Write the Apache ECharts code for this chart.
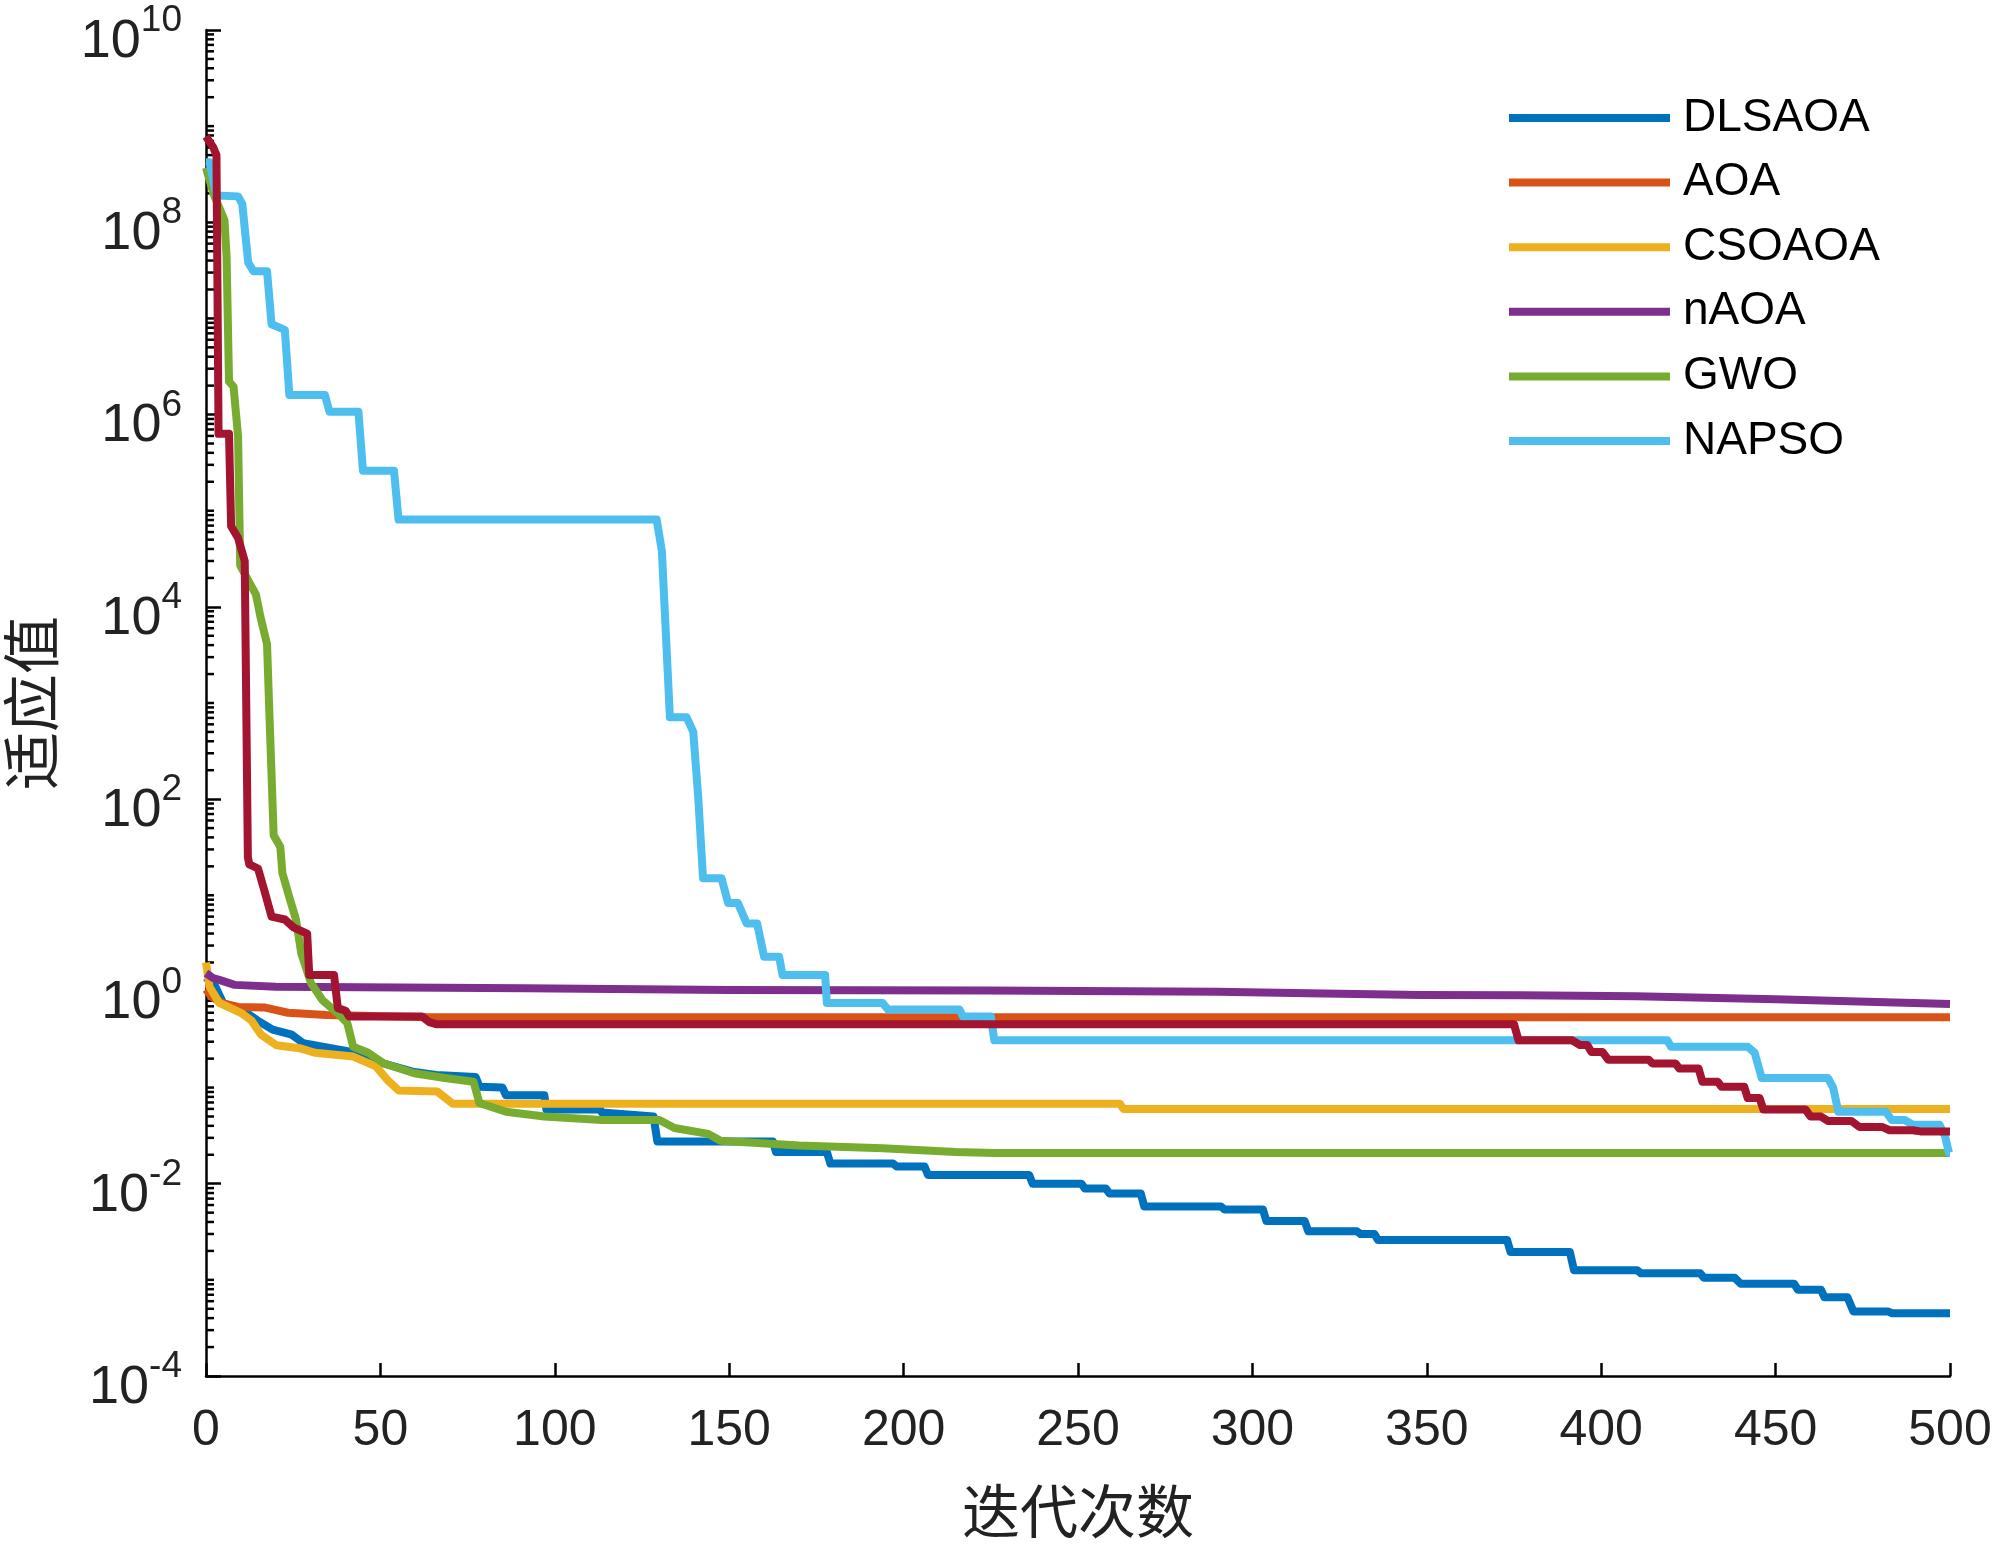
<!DOCTYPE html>
<html>
<head>
<meta charset="utf-8">
<script src="https://cdn.jsdelivr.net/npm/echarts@6/dist/echarts.min.js"></script>
<style>
  html, body { margin: 0; padding: 0; background: #fff; }
  #chart { width: 2000px; height: 1549px; }
</style>
</head>
<body>
<div id="chart"></div>
<script>
// convergence curves, [iteration, fitness]
const dlsaoa = [[0,1.4],[2.7,1.12],[4.9,0.76],[9.3,0.65],[12.5,0.57],[14.7,0.5],[19.1,0.4],[24.6,0.355],[27.9,0.29],[33.4,0.266],[42.2,0.234],[51,0.178],[59.7,0.145],[66,0.135],[77.3,0.129],[78.4,0.102],[85,0.1],[86,0.083],[97,0.083],[97.6,0.059],[113,0.059],[113.5,0.055],[128.3,0.05],[129.4,0.0275],[162.5,0.0275],[163.4,0.0214],[178,0.0214],[179,0.0162],[197,0.0162],[198,0.0151],[206,0.0151],[207,0.0123],[236,0.0123],[237,0.01],[251,0.01],[252,0.0089],[258,0.0089],[259,0.0079],[268,0.0079],[269,0.0058],[291,0.0058],[292,0.0054],[303,0.0054],[304,0.0041],[315,0.0041],[316,0.0032],[330,0.0032],[331,0.003],[335,0.003],[336,0.0026],[373,0.0026],[374,0.00195],[391,0.00195],[392.2,0.00126],[410.3,0.00126],[411.4,0.00117],[428.4,0.00117],[429.5,0.00105],[438.3,0.00105],[440,0.00091],[455.3,0.00091],[456.4,0.00079],[463,0.00079],[464,0.00066],[470.6,0.00066],[472.3,0.00047],[482.2,0.00047],[483.3,0.00045],[500,0.00045]];

const aoa = [[0,1.05],[1.6,0.88],[4.9,0.75],[9.3,0.69],[17,0.68],[23.5,0.6],[34.5,0.57],[64,0.54],[500,0.54]];

const csoaoa = [[0,2.0],[1,1.12],[3.8,0.76],[10.3,0.59],[13,0.5],[15.8,0.355],[20.2,0.275],[26.8,0.257],[31.2,0.23],[42.2,0.21],[48.7,0.166],[52,0.12],[55.3,0.093],[66.3,0.091],[70.7,0.068],[262,0.068],[263,0.06],[500,0.06]];

const naoa = [[0,1.55],[2,1.38],[3.8,1.32],[8.2,1.17],[20,1.12],[91.5,1.08],[150,1.035],[224,1.02],[290,0.995],[316,0.955],[348,0.92],[377,0.91],[410,0.89],[450,0.83],[500,0.74]];

const gwo = [[0,3.7e8],[2.1,2.0e8],[5.3,1.05e8],[5.9,4.4e7],[6.6,2.2e6],[7.9,1.95e6],[9.2,5.9e5],[9.8,2.7e4],[12.4,1.8e4],[14.3,1.35e4],[15.6,7.9e3],[17.5,4.1e3],[18.1,930],[19.4,42],[21.3,32],[21.9,17],[23.9,9.5],[25.8,5.6],[27.3,2.5],[30.1,1.22],[33.4,0.81],[37.8,0.59],[40.5,0.47],[42.2,0.266],[46.5,0.23],[51,0.178],[59.7,0.141],[68.5,0.126],[76.7,0.115],[78.4,0.069],[86,0.056],[97,0.05],[113.5,0.046],[130,0.046],[134.3,0.038],[144,0.033],[147.5,0.028],[170,0.025],[194,0.0234],[215,0.0214],[226,0.0209],[500,0.0209]];

const napso = [[0,4.2e8],[1,4.2e8],[3,1.9e8],[9.2,1.86e8],[10.4,1.55e8],[12.1,3.8e7],[13.6,3.1e7],[17.5,3.1e7],[18.8,8.7e6],[22.6,7.6e6],[23.9,1.6e6],[34.1,1.6e6],[35.4,1.07e6],[43.7,1.07e6],[45,2.6e5],[53.9,2.6e5],[55.2,8.1e4],[129.2,8.1e4],[130.7,3.8e4],[133,710],[137.8,710],[139.7,500],[141.1,107],[142.5,15],[147.8,15],[149.7,8.3],[152.5,8.3],[155,5.1],[158,5.1],[160,2.3],[164.3,2.3],[165.3,1.48],[177.5,1.48],[178,0.76],[194,0.76],[195.5,0.65],[216,0.65],[217,0.55],[225,0.55],[226,0.31],[419,0.31],[420,0.266],[442,0.266],[444,0.23],[446,0.126],[465,0.126],[466.5,0.1],[468,0.056],[481.6,0.056],[483.3,0.046],[487,0.046],[489.3,0.041],[497,0.041],[498.6,0.031],[499.7,0.021],[500,0.021]];

// seventh curve (dark red), drawn but not listed in the legend
const extra = [[0,7.8e8],[2.1,6.0e8],[3,5.0e8],[3.6,6.3e5],[6.6,6.3e5],[7.2,6.9e4],[9.2,5.2e4],[11.1,3.0e4],[12,25],[12.4,21],[14.9,19],[16.8,11],[18.8,6.0],[22.6,5.6],[25.2,4.6],[29,4.0],[29.6,1.48],[36.7,1.48],[37.8,0.67],[40,0.63],[41,0.55],[61.9,0.55],[64,0.48],[66,0.457],[375,0.457],[376.3,0.31],[391.7,0.31],[393.9,0.277],[396,0.277],[397.2,0.234],[400.4,0.234],[402,0.195],[413.6,0.195],[414.7,0.178],[421.3,0.178],[422.4,0.158],[427.9,0.158],[429,0.115],[433.4,0.115],[434.5,0.102],[441,0.102],[442,0.078],[445.4,0.078],[446.5,0.059],[458.6,0.059],[460,0.05],[463,0.05],[465,0.045],[471.7,0.045],[474,0.039],[480.5,0.039],[482.7,0.036],[489.3,0.036],[491.5,0.035],[500,0.035]];

const names = ['DLSAOA', 'AOA', 'CSOAOA', 'nAOA', 'GWO', 'NAPSO'];
const colors = ['#0072BD', '#D95319', '#EDB120', '#7E2F8E', '#77AC30', '#4DBEEE', '#A2142F'];
const curves = [dlsaoa, aoa, csoaoa, naoa, gwo, napso, extra];

const fontNum = '"Liberation Sans", Arial, Helvetica, sans-serif';
const fontCJK = '"Noto Sans CJK SC", sans-serif';

// minor ticks of the log axis: 2..9 x 10^n and the odd decades
const minorTickValues = [];
for (let n = -4; n < 10; n++) {
    for (let k = 2; k <= 10; k++) {
        if (k === 10 && (n + 1) % 2 === 0) continue;
        minorTickValues.push([0, k * Math.pow(10, n)]);
    }
}

const lineSeries = curves.map((d, i) => ({
    name: i < names.length ? names[i] : '',
    type: 'line',
    data: d,
    symbol: 'none',
    smooth: false,
    lineStyle: { color: colors[i], width: 8, join: 'round', cap: 'butt' },
    itemStyle: { color: colors[i] },
    emphasis: { disabled: true }
}));

const option = {
    animation: false,
    backgroundColor: '#fff',
    grid: { left: 206, right: 50, top: 30, bottom: 173, containLabel: false, outerBoundsMode: 'none' },
    legend: {
        data: names,
        orient: 'vertical',
        left: 1504,
        top: 88,
        icon: 'rect',
        itemWidth: 161,
        itemHeight: 8,
        itemGap: 14.6,
        textStyle: {
            fontFamily: fontNum,
            fontSize: 46,
            color: '#000',
            lineHeight: 50,
            padding: [0, 0, 0, 8]
        }
    },
    xAxis: {
        type: 'value',
        min: 0,
        max: 500,
        interval: 50,
        name: '迭代次数',
        nameLocation: 'middle',
        nameGap: 106,
        nameTextStyle: { fontFamily: fontCJK, fontSize: 58, color: '#222' },
        axisLine: { onZero: false, lineStyle: { color: '#000', width: 2.5 } },
        axisTick: { inside: true, length: 13, lineStyle: { color: '#000', width: 2.5 } },
        axisLabel: { margin: 30, fontFamily: fontNum, fontSize: 50, color: '#222' },
        splitLine: { show: false }
    },
    yAxis: {
        type: 'log',
        logBase: 10,
        min: 1e-4,
        max: 1e10,
        interval: 2,
        name: '适应值',
        nameLocation: 'middle',
        nameGap: 146,
        nameTextStyle: { fontFamily: fontCJK, fontSize: 58, color: '#222' },
        axisLine: { lineStyle: { color: '#000', width: 2.5 } },
        axisTick: { inside: true, length: 15, lineStyle: { color: '#000', width: 2.5 } },
        axisLabel: {
            margin: 24,
            formatter: (v) => '{b|10}{s|' + Math.round(Math.log10(v)) + '}',
            rich: {
                b: { fontFamily: fontNum, fontSize: 54, color: '#222', padding: [24, 0, 0, 0] },
                s: { fontFamily: fontNum, fontSize: 37, color: '#222', padding: [0, 0, 18, 0] }
            }
        },
        splitLine: { show: false },
        minorTick: { show: false }
    },
    series: [
        {
            type: 'custom',
            name: 'minorTicks',
            silent: true,
            clip: false,
            data: minorTickValues,
            encode: { x: 0, y: 1 },
            renderItem: (params, api) => {
                const p = api.coord([0, api.value(1)]);
                return {
                    type: 'line',
                    shape: { x1: p[0], y1: p[1], x2: p[0] + 8, y2: p[1] },
                    style: { stroke: '#000', lineWidth: 2.5 }
                };
            },
            z: 3
        }
    ].concat(lineSeries)
};

const chart = echarts.init(document.getElementById('chart'));
chart.setOption(option);
</script>
</body>
</html>
